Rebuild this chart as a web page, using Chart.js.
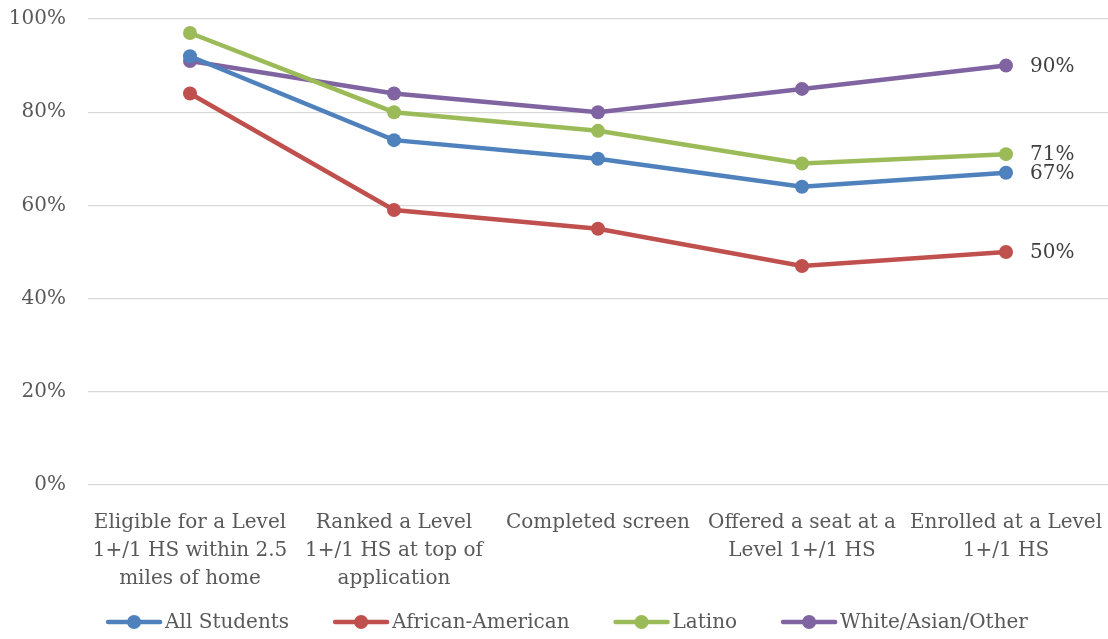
<!DOCTYPE html>
<html>
<head>
<meta charset="utf-8">
<script src="https://cdn.jsdelivr.net/npm/chart.js"></script>
<style>
  html, body { margin: 0; padding: 0; background: #ffffff; }
  #wrap { width: 1108px; height: 639px; position: relative; }
</style>
</head>
<body>
<div id="wrap"><canvas id="chart"></canvas></div>
<script>
// Categories (multi-line x labels)
const categories = [
    ['Eligible for a Level', '1+/1 HS within 2.5', 'miles of home'],
    ['Ranked a Level', '1+/1 HS at top of', 'application'],
    'Completed screen',
    ['Offered a seat at a', 'Level 1+/1 HS'],
    ['Enrolled at a Level', '1+/1 HS']
];

// Series values (%)
const allStudents = [92, 74, 70, 64, 67];
const africanAmerican = [84, 59, 55, 47, 50];
const latino = [97, 80, 76, 69, 71];
const whiteAsianOther = [91, 84, 80, 85, 90];

const seriesNames = ['All Students', 'African-American', 'Latino', 'White/Asian/Other'];
const seriesColors = ['#4F81BD', '#C0504D', '#9BBB59', '#8064A2'];

const FONT = 'DejaVu Serif';
const TEXT = '#595959';

function makeDataset(i, values) {
    return {
        label: seriesNames[i],
        data: values,
        borderColor: seriesColors[i],
        backgroundColor: seriesColors[i],
        borderWidth: 4.5,
        pointRadius: 7,
        pointHoverRadius: 7,
        pointBackgroundColor: seriesColors[i],
        pointBorderWidth: 0,
        tension: 0,
        fill: false
    };
}

// drop the extra room Chart.js reserves for overhanging tick labels
function noLabelPadding(scale) {
    scale.paddingTop = 0;
    scale.paddingBottom = 0;
    scale.paddingLeft = 0;
    scale.paddingRight = 0;
}

// Value labels to the right of the last point
const endLabels = {
    id: 'endLabels',
    afterDatasetsDraw(chart) {
        const ctx = chart.ctx;
        ctx.save();
        ctx.font = '20px "' + FONT + '"';
        ctx.fillStyle = '#404040';
        ctx.textAlign = 'left';
        ctx.textBaseline = 'middle';
        chart.data.datasets.forEach((ds, i) => {
            const meta = chart.getDatasetMeta(i);
            const last = meta.data[meta.data.length - 1];
            ctx.fillText(ds.data[ds.data.length - 1] + '%', last.x + 24, last.y + 1);
        });
        ctx.restore();
    }
};

// Legend: line + dot symbol, drawn at the bottom
const lineLegend = {
    id: 'lineLegend',
    afterDraw(chart) {
        const ctx = chart.ctx;
        const symW = 56, gapText = 3, gapItem = 44;
        ctx.save();
        ctx.font = '20px "' + FONT + '"';
        const widths = chart.data.datasets.map(ds => symW + gapText + ctx.measureText(ds.label).width);
        const total = widths.reduce((a, b) => a + b, 0) + gapItem * (widths.length - 1);
        let x = (chart.width - total) / 2 + 13;
        const y = 622;
        chart.data.datasets.forEach((ds, i) => {
            ctx.strokeStyle = ds.borderColor;
            ctx.lineWidth = 4.5;
            ctx.lineCap = 'round';
            ctx.beginPath();
            ctx.moveTo(x + 2, y);
            ctx.lineTo(x + symW - 2, y);
            ctx.stroke();
            ctx.fillStyle = ds.borderColor;
            ctx.beginPath();
            ctx.arc(x + symW / 2, y, 7, 0, Math.PI * 2);
            ctx.fill();
            ctx.fillStyle = TEXT;
            ctx.textAlign = 'left';
            ctx.textBaseline = 'middle';
            ctx.fillText(ds.label, x + symW + gapText, y + 1);
            x += widths[i] + gapItem;
        });
        ctx.restore();
    }
};

new Chart(document.getElementById('chart'), {
    type: 'line',
    data: {
        labels: categories,
        datasets: [
            makeDataset(0, allStudents),
            makeDataset(1, africanAmerican),
            makeDataset(2, latino),
            makeDataset(3, whiteAsianOther)
        ]
    },
    options: {
        responsive: true,
        maintainAspectRatio: false,
        animation: false,
        layout: {
            autoPadding: false,
            padding: { top: 19, right: 0, bottom: 40, left: 0 }
        },
        plugins: {
            legend: { display: false },
            tooltip: { enabled: false }
        },
        scales: {
            x: {
                offset: true,
                grid: { display: false },
                border: { display: false },
                ticks: {
                    color: TEXT,
                    font: { family: FONT, size: 20, lineHeight: 1.4 },
                    padding: 16,
                    maxRotation: 0,
                    autoSkip: false
                },
                afterFit(scale) {
                    scale.height = 114;
                    noLabelPadding(scale);
                }
            },
            y: {
                min: 0,
                max: 100,
                grid: { color: '#D9D9D9', lineWidth: 1.3, drawTicks: false },
                border: { display: false },
                ticks: {
                    stepSize: 20,
                    color: TEXT,
                    font: { family: FONT, size: 20 },
                    padding: 22,
                    callback: v => v + '%'
                },
                afterFit(scale) {
                    scale.width = 88;
                    noLabelPadding(scale);
                }
            }
        }
    },
    plugins: [endLabels, lineLegend]
});
</script>
</body>
</html>
